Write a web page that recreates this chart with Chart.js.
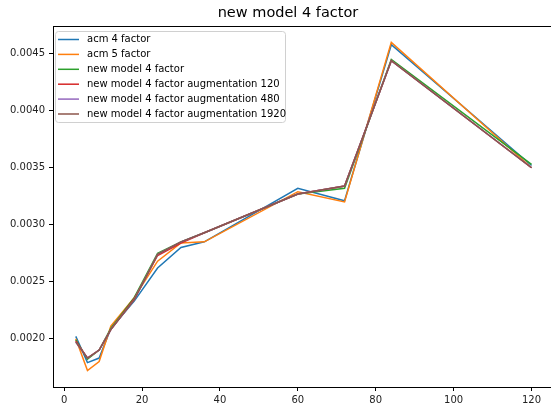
<!DOCTYPE html>
<html>
<head>
<meta charset="utf-8">
<script src="https://cdn.jsdelivr.net/npm/chart.js@4"></script>
<style>
  html, body { margin: 0; padding: 0; background: #fff; overflow: hidden; }
  canvas { display: block; }
</style>
</head>
<body>
<canvas id="chart" width="551" height="414"></canvas>
<script>
// x values (shared by all series)
const xValues = [3, 6, 9, 12, 18, 24, 30, 36, 60, 72, 84, 120];

const acm4 = [0.00202, 0.00179, 0.00183, 0.00209, 0.00233, 0.00262, 0.00280, 0.00285, 0.00332, 0.00321, 0.00458, 0.00352];
const acm5 = [0.00200, 0.00172, 0.00180, 0.00211, 0.00236, 0.00268, 0.00284, 0.00285, 0.00329, 0.00320, 0.00460, 0.00350];
const newModel4 = [0.00199, 0.00182, 0.00190, 0.00209, 0.00236, 0.00275, 0.00285, 0.00293, 0.00327, 0.00332, 0.00445, 0.00353];
const aug120 = [0.00198, 0.00183, 0.00190, 0.00208, 0.00235, 0.00273, 0.00284, 0.00293, 0.00327, 0.00334, 0.00444, 0.00350];
const aug480 = [0.00197, 0.00183, 0.00190, 0.00208, 0.00234, 0.00274, 0.00285, 0.00293, 0.00327, 0.00334, 0.00444, 0.00350];
const aug1920 = [0.00197, 0.00183, 0.00190, 0.00208, 0.00234, 0.00274, 0.00285, 0.00293, 0.00327, 0.00334, 0.00444, 0.00350];

const seriesLabels = [
    'acm 4 factor',
    'acm 5 factor',
    'new model 4 factor',
    'new model 4 factor augmentation 120',
    'new model 4 factor augmentation 480',
    'new model 4 factor augmentation 1920',
];
const seriesValues = [acm4, acm5, newModel4, aug120, aug480, aug1920];
const colors = ['#1f77b4', '#ff7f0e', '#2ca02c', '#d62728', '#9467bd', '#8c564b'];

const xTicks = [0, 20, 40, 60, 80, 100, 120];
const yTicks = [0.0020, 0.0025, 0.0030, 0.0035, 0.0040, 0.0045];
const chartTitle = 'new model 4 factor';

const FONT = '"DejaVu Sans", sans-serif';

// matplotlib-like frame, title and legend inside the axes
const decorations = {
    id: 'decorations',
    afterDraw(chart) {
        const ctx = chart.ctx;
        const a = chart.chartArea;
        ctx.save();
        ctx.strokeStyle = '#000';
        ctx.lineWidth = 1;
        ctx.beginPath();
        ctx.moveTo(a.left + 0.5, a.bottom + 0.5);
        ctx.lineTo(a.left + 0.5, a.top + 0.5);
        ctx.lineTo(a.right + 5, a.top + 0.5);
        ctx.stroke();

        // title
        ctx.fillStyle = '#000';
        ctx.font = '14.5px ' + FONT;
        ctx.textAlign = 'center';
        ctx.textBaseline = 'middle';
        ctx.fillText(chartTitle, 288, 13);

        // legend
        const bx = 55, by = 31, bw = 230, bh = 91;
        ctx.fillStyle = 'rgba(255,255,255,0.8)';
        ctx.strokeStyle = '#d0d0d0';
        ctx.beginPath();
        ctx.roundRect(bx + 0.5, by + 0.5, bw, bh, 3);
        ctx.fill();
        ctx.stroke();
        ctx.font = '10px ' + FONT;
        ctx.textAlign = 'left';
        seriesLabels.forEach((label, i) => {
            const y = 39.5 + i * 14.9;
            ctx.strokeStyle = colors[i];
            ctx.lineWidth = 1.5;
            ctx.beginPath();
            ctx.moveTo(58, y);
            ctx.lineTo(79, y);
            ctx.stroke();
            ctx.fillStyle = '#000';
            ctx.fillText(label, 87, y);
        });
        ctx.restore();
    }
};

new Chart(document.getElementById('chart'), {
    type: 'line',
    data: {
        datasets: seriesValues.map((vals, i) => ({
            label: seriesLabels[i],
            data: vals.map((v, j) => ({ x: xValues[j], y: v })),
            borderColor: colors[i],
            backgroundColor: colors[i],
            borderWidth: 1.5,
            pointRadius: 0,
            tension: 0,
            fill: false,
            order: seriesValues.length - i,
        })),
    },
    options: {
        responsive: false,
        animation: false,
        devicePixelRatio: 1,
        layout: { padding: { top: 26, right: 0, left: 0, bottom: 0 } },
        scales: {
            x: {
                type: 'linear',
                min: -2.85,
                max: 125.0,
                afterBuildTicks: (scale) => { scale.ticks = xTicks.map(v => ({ value: v })); },
                afterFit: (scale) => { scale.height = 27; },
                grid: { drawOnChartArea: false, drawTicks: true, tickLength: 4, color: '#000' },
                border: { display: true, color: '#000' },
                ticks: { color: '#222', font: { family: FONT, size: 10 }, padding: 3, maxRotation: 0 },
            },
            y: {
                type: 'linear',
                min: 0.001576,
                max: 0.004744,
                afterBuildTicks: (scale) => { scale.ticks = yTicks.map(v => ({ value: v })); },
                afterFit: (scale) => { scale.width = 53; },
                grid: { drawOnChartArea: false, drawTicks: true, tickLength: 4, color: '#000' },
                border: { display: true, color: '#000' },
                ticks: {
                    color: '#222',
                    font: { family: FONT, size: 10 },
                    padding: 4,
                    callback: (v) => v.toFixed(4),
                },
            },
        },
        plugins: {
            legend: { display: false },
            title: { display: false },
            tooltip: { enabled: false },
        },
    },
    plugins: [decorations],
});
</script>
</body>
</html>
